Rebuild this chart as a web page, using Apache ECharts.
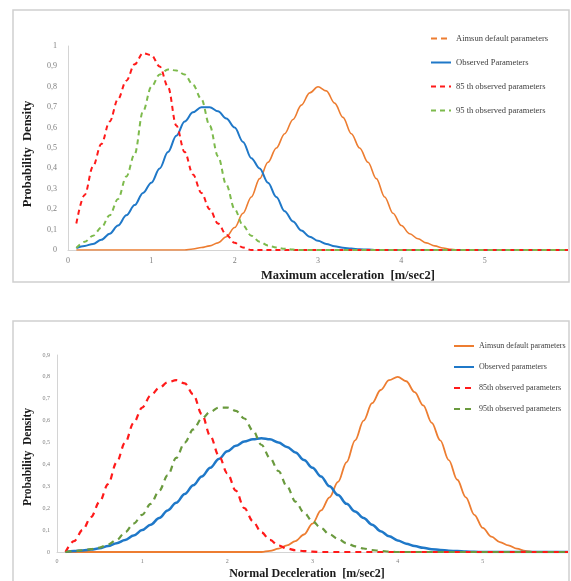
<!DOCTYPE html>
<html>
<head>
<meta charset="utf-8">
<script src="https://cdn.jsdelivr.net/npm/echarts@6/dist/echarts.min.js"></script>
<style>
  html, body { margin: 0; padding: 0; background: #ffffff; }
  #chart { width: 571px; height: 581px; }
</style>
</head>
<body>
<div id="chart"></div>
<script>
// ---- Maximum acceleration (upper panel) ----
const accX = [0.1,0.2,0.3,0.4,0.5,0.6,0.7,0.8,0.9,1.0,1.1,1.2,1.3,1.4,1.5,1.6,1.7,1.8,1.9,2.0,
  2.1,2.2,2.3,2.4,2.5,2.6,2.7,2.8,2.9,3.0,3.1,3.2,3.3,3.4,3.5,3.6,3.7,3.8,3.9,4.0,
  4.1,4.2,4.3,4.4,4.5,4.6,4.7,5.0,5.5,6.0];
const accAimsun = [0,0,0,0,0,0,0,0,0,0,0,0,0,0,0.005,0.012,0.02,0.035,0.065,0.11,
  0.18,0.26,0.35,0.43,0.50,0.57,0.64,0.71,0.77,0.80,0.78,0.72,0.65,0.57,0.50,0.43,0.35,0.26,0.18,0.12,
  0.08,0.055,0.035,0.02,0.01,0.003,0,0,0,0];
const accObserved = [0.01,0.02,0.03,0.05,0.08,0.12,0.17,0.22,0.28,0.33,0.40,0.48,0.56,0.63,0.675,0.70,0.70,0.68,0.645,0.60,
  0.53,0.45,0.40,0.33,0.26,0.19,0.14,0.095,0.065,0.045,0.03,0.018,0.011,0.007,0.004,0.002,0,0,0,0,
  0,0,0,0,0,0,0,0,0,0];
const acc85 = [0.13,0.27,0.41,0.52,0.63,0.74,0.83,0.91,0.965,0.955,0.90,0.80,0.61,0.48,0.37,0.28,0.20,0.13,0.075,0.035,
  0.012,0,0,0,0,0,0,0,0,0,0,0,0,0,0,0,0,0,0,0,
  0,0,0,0,0,0,0,0,0,0];
const acc95 = [0.01,0.04,0.07,0.11,0.17,0.25,0.36,0.47,0.68,0.80,0.86,0.885,0.88,0.86,0.81,0.74,0.61,0.46,0.32,0.20,
  0.12,0.07,0.04,0.022,0.012,0.006,0.002,0,0,0,0,0,0,0,0,0,0,0,0,0,
  0,0,0,0,0,0,0,0,0,0];

// ---- Normal deceleration (lower panel) ----
const decX = [0.1,0.2,0.3,0.4,0.5,0.6,0.7,0.8,0.9,1.0,1.1,1.2,1.3,1.4,1.5,1.6,1.7,1.8,1.9,2.0,
  2.1,2.2,2.3,2.4,2.5,2.6,2.7,2.8,2.9,3.0,3.1,3.2,3.3,3.4,3.5,3.6,3.7,3.8,3.9,4.0,
  4.1,4.2,4.3,4.4,4.5,4.6,4.7,4.8,4.9,5.0,5.1,5.2,5.3,5.4,5.5,5.6,6.0];
const decAimsun = [0,0,0,0,0,0,0,0,0,0,0,0,0,0,0,0,0,0,0,0,
  0,0,0,0,0.005,0.015,0.03,0.05,0.08,0.13,0.19,0.25,0.32,0.41,0.51,0.60,0.68,0.74,0.785,0.80,
  0.78,0.73,0.67,0.59,0.51,0.42,0.33,0.25,0.17,0.11,0.07,0.045,0.03,0.015,0.005,0,0];
const decObserved = [0,0.004,0.007,0.011,0.017,0.027,0.04,0.055,0.075,0.10,0.125,0.155,0.19,0.225,0.265,0.305,0.345,0.385,0.425,0.46,
  0.485,0.505,0.515,0.52,0.515,0.50,0.48,0.455,0.42,0.385,0.345,0.30,0.26,0.22,0.185,0.155,0.125,0.095,0.072,0.053,
  0.038,0.027,0.019,0.013,0.009,0.006,0.004,0.002,0.001,0,0,0,0,0,0,0,0];
const dec85 = [0,0.05,0.10,0.16,0.23,0.31,0.41,0.50,0.59,0.66,0.715,0.75,0.775,0.785,0.77,0.72,0.63,0.53,0.44,0.36,
  0.28,0.20,0.14,0.09,0.055,0.03,0.016,0.008,0.004,0.002,0,0,0,0,0,0,0,0,0,0,
  0,0,0,0,0,0,0,0,0,0,0,0,0,0,0,0,0];
const dec95 = [0,0.004,0.008,0.013,0.02,0.035,0.055,0.09,0.13,0.17,0.22,0.28,0.35,0.43,0.50,0.56,0.61,0.64,0.66,0.66,
  0.645,0.61,0.555,0.49,0.43,0.37,0.30,0.23,0.18,0.14,0.11,0.08,0.06,0.04,0.026,0.016,0.009,0.005,0.002,0,
  0,0,0,0,0,0,0,0,0,0,0,0,0,0,0,0,0];

const accNames = ['Aimsun default parameters', 'Observed Parameters', '85 th observed parameters', '95 th observed parameters'];
const decNames = ['Aimsun default parameters ', 'Observed parameters', '85th observed parameters', '95th observed parameters'];

const accTicks = [0, 1, 2, 3, 4, 5];
const decTicks = [0, 1, 2, 3, 4, 5];

const ORANGE = '#ED7D31';
const BLUE = '#1F78C8';
const RED = '#FF1A1A';
const GREEN_LIGHT = '#7DBA4C';
const GREEN_DARK = '#6A9A3E';
const SERIF = '"Liberation Serif", "DejaVu Serif", serif';

function pairs(xs, ys) { return xs.map((x, i) => [x, ys[i]]); }
const comma = v => String(Math.round(v * 10) / 10).replace('.', ',');

function lineSeries(name, xs, ys, idx, color, width, dashed) {
  return {
    type: 'line', name: name, xAxisIndex: idx, yAxisIndex: idx,
    data: pairs(xs, ys), showSymbol: false, symbol: 'none',
    smooth: 0.35, smoothMonotone: 'x', animation: false,
    lineStyle: { color: color, width: width, type: dashed ? dashed : 'solid', cap: 'butt' },
    itemStyle: { color: color }
  };
}

function xAxisCfg(idx, ticks, fs, margin) {
  return {
    type: 'value', gridIndex: idx, min: 0, max: 6, interval: 1,
    axisLine: { show: true, lineStyle: { color: '#D4D4D4', width: 1 } },
    axisTick: { show: false }, splitLine: { show: false },
    axisLabel: {
      color: '#7F7F7F', fontFamily: SERIF, fontSize: fs, margin: margin,
      formatter: v => (ticks.indexOf(v) >= 0 ? String(v) : '')
    }
  };
}
function yAxisCfg(idx, max, fs, margin) {
  return {
    type: 'value', gridIndex: idx, min: 0, max: max, interval: 0.1,
    axisLine: { show: true, lineStyle: { color: '#D4D4D4', width: 1 } },
    axisTick: { show: false }, splitLine: { show: false },
    axisLabel: { color: '#7F7F7F', fontFamily: SERIF, fontSize: fs, margin: margin, formatter: comma }
  };
}

const chart = echarts.init(document.getElementById('chart'), null, { renderer: 'canvas' });
chart.setOption({
  backgroundColor: '#ffffff',
  animation: false,
  grid: [
    { left: 68, top: 46, width: 504, height: 204 },
    { left: 57, top: 355, width: 516, height: 197 }
  ],
  xAxis: [xAxisCfg(0, accTicks, 8, 7), xAxisCfg(1, decTicks, 6, 6)],
  yAxis: [yAxisCfg(0, 1, 8, 11), yAxisCfg(1, 0.9, 6, 7)],
  legend: [
    {
      orient: 'vertical', left: 430, top: 34, padding: 0, itemWidth: 20, itemHeight: 8, itemGap: 15,
      itemStyle: { opacity: 0 },
      textStyle: { fontFamily: SERIF, fontSize: 8.5, color: '#404040' },
      data: [
        { name: accNames[0], lineStyle: { type: [6, 4], width: 2 } },
        { name: accNames[1] },
        { name: accNames[2] },
        { name: accNames[3] }
      ]
    },
    {
      orient: 'vertical', left: 453, top: 342, padding: 0, itemWidth: 20, itemHeight: 8, itemGap: 13,
      itemStyle: { opacity: 0 },
      textStyle: { fontFamily: SERIF, fontSize: 8, color: '#404040' },
      data: decNames
    }
  ],
  graphic: [
    { type: 'rect', shape: { x: 13, y: 10, width: 556, height: 272 }, style: { fill: 'none', stroke: '#D0D0D0', lineWidth: 1.5 }, silent: true },
    { type: 'rect', shape: { x: 13, y: 321, width: 556, height: 275 }, style: { fill: 'none', stroke: '#D0D0D0', lineWidth: 1.5 }, silent: true },
    { type: 'text', x: 348, y: 276, style: { text: 'Maximum acceleration  [m/sec2]', font: 'bold 12.5px ' + SERIF, fill: '#1a1a1a', align: 'center', verticalAlign: 'middle' }, silent: true },
    { type: 'text', x: 28, y: 154, rotation: Math.PI / 2, style: { text: 'Probability  Density', font: 'bold 12.5px ' + SERIF, fill: '#1a1a1a', align: 'center', verticalAlign: 'middle' }, silent: true },
    { type: 'text', x: 307, y: 574, style: { text: 'Normal Deceleration  [m/sec2]', font: 'bold 12px ' + SERIF, fill: '#1a1a1a', align: 'center', verticalAlign: 'middle' }, silent: true },
    { type: 'text', x: 28, y: 457, rotation: Math.PI / 2, style: { text: 'Probability  Density', font: 'bold 11.5px ' + SERIF, fill: '#1a1a1a', align: 'center', verticalAlign: 'middle' }, silent: true }
  ],
  series: [
    lineSeries(accNames[0], accX, accAimsun, 0, ORANGE, 1.6),
    lineSeries(accNames[1], accX, accObserved, 0, BLUE, 2),
    lineSeries(accNames[2], accX, acc85, 0, RED, 2, [5, 4]),
    lineSeries(accNames[3], accX, acc95, 0, GREEN_LIGHT, 2, [5, 4]),
    lineSeries(decNames[0], decX, decAimsun, 1, ORANGE, 1.8),
    lineSeries(decNames[1], decX, decObserved, 1, BLUE, 2.5),
    lineSeries(decNames[2], decX, dec85, 1, RED, 2.2, [6, 5]),
    lineSeries(decNames[3], decX, dec95, 1, GREEN_DARK, 2.2, [6, 5])
  ]
});
</script>
</body>
</html>
